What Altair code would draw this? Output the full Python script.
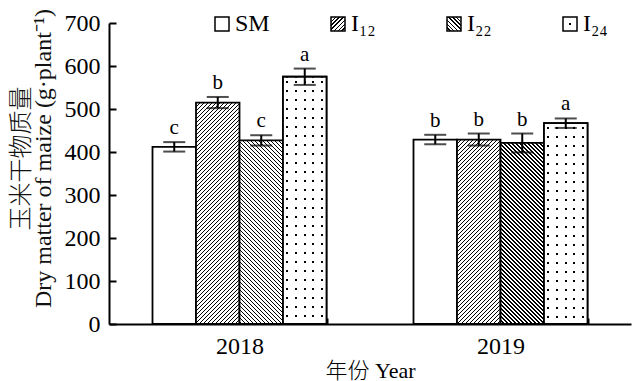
import json
import altair as alt
import pandas as pd

# ---------------- data ----------------
years = ["2018", "2019"]
treatments = ["SM", "I₁₂", "I₂₂", "I₂₄"]
dm_2018 = [412, 515, 427, 575]
dm_2019 = [429, 429, 421, 467]
err_2018 = [11, 13, 12, 19]
err_2019 = [11, 14, 22, 11]
sig_2018 = ["c", "b", "c", "a"]
sig_2019 = ["b", "b", "b", "a"]
y_ticks = [0, 100, 200, 300, 400, 500, 600, 700]

rows = []
for yr, vals, errs, sigs in [(years[0], dm_2018, err_2018, sig_2018),
                             (years[1], dm_2019, err_2019, sig_2019)]:
    for t, v, e, s in zip(treatments, vals, errs, sigs):
        rows.append({"year": yr, "treat": t, "bar": f"{yr}-{t}",
                     "dm": v, "err": e, "sig": s})
df = pd.DataFrame(rows)

# ---------------- layout / style ----------------
PLOT_W, PLOT_H, YMAX = 522, 301, 700
BAR_W = PLOT_W / 2 * (2 / 3) / 4
FONT = "Liberation Serif"
CJK_FONT = f"{FONT}, Noto Sans CJK SC"
TRANSP = "rgba(255,255,255,0)"


def stripe_stops(period, width, t_end, phase=0.0, line="black", bg="white"):
    stops = [{"offset": 0, "color": bg}]
    a = phase
    while a < t_end and a < 1:
        b = min(a + width, 1)
        stops += [{"offset": round(a, 5), "color": bg},
                  {"offset": round(a, 5), "color": line},
                  {"offset": round(b, 5), "color": line},
                  {"offset": round(b, 5), "color": bg}]
        a += period
    stops.append({"offset": 1, "color": bg})
    return stops


def diag(w, h, forward=True, px=4.0, lw=1.3):
    r = h / w
    den = w * (1 + r * r)
    if forward:
        g = {"gradient": "linear", "x1": 0, "y1": 0, "x2": 1, "y2": r}
    else:
        g = {"gradient": "linear", "x1": 1, "y1": 0, "x2": 0, "y2": r}
    g["stops"] = stripe_stops(px / den, lw / den, (w + h) / den)
    return g


def hlines(h, py=9.0, lw=2.0, ph=4.0):
    g = {"gradient": "linear", "x1": 0, "y1": 0, "x2": 0, "y2": 1}
    g["stops"] = stripe_stops(py / h, lw / h, 1, phase=ph / h)
    return g


def expr(g):
    return {"expr": json.dumps(g)}


bar_ids = list(df["bar"])
bar_range = []
for _, row in df.iterrows():
    h = row["dm"] / YMAX * PLOT_H
    t = row["treat"]
    if t == treatments[0]:
        bar_range.append("white")
    elif t == treatments[1]:
        bar_range.append(expr(diag(BAR_W, h, True)))
    elif t == treatments[2]:
        bar_range.append(expr(diag(BAR_W, h, False)))
    else:
        bar_range.append(expr(hlines(h)))

S = 14
legend_range = [
    "white",
    expr(diag(S, S, True)),
    expr(diag(S, S, False)),
    expr({"gradient": "radial", "x1": 0.5, "y1": 0.5, "r1": 0,
          "x2": 0.5, "y2": 0.5, "r2": 0.5,
          "stops": [{"offset": 0, "color": "black"},
                    {"offset": 0.12, "color": "black"},
                    {"offset": 0.12, "color": "white"},
                    {"offset": 1, "color": "white"}]}),
]

gap = 2.0 / BAR_W
dots_overlay = {"gradient": "linear", "x1": 0, "y1": 0, "x2": 1, "y2": 0,
                "stops": stripe_stops(0.2, gap, 1, phase=0.1 - gap / 2,
                                      line=TRANSP, bg="white")}

# ---------------- encodings ----------------
x_enc = alt.X("year:N", sort=years,
              scale=alt.Scale(domain=years, paddingInner=1 / 3, paddingOuter=1 / 6),
              axis=alt.Axis(title="年份 Year", labelAngle=0, tickBand="extent",
                            tickSize={"expr": "-6"}, tickWidth=2, tickColor="black",
                            domainColor="black", domainWidth=2,
                            labelFont=FONT, labelFontSize=24, labelColor="black",
                            labelPadding=16,
                            titleFont=CJK_FONT, titleFontSize=22,
                            titleFontWeight=300, titleColor="black",
                            titleY=53, titleBaseline="alphabetic"))
xo_enc = alt.XOffset("treat:N", sort=treatments,
                     scale=alt.Scale(domain=treatments, paddingInner=0, paddingOuter=0))

y_axis = alt.Axis(values=y_ticks, grid=False,
                  title=["玉米干物质量", "Dry matter of maize (g·plant⁻¹)"],
                  tickSize={"expr": "-7"}, tickWidth=2, tickColor="black",
                  domainColor="black", domainWidth=2,
                  labelFont=FONT, labelFontSize=24, labelColor="black",
                  labelPadding=16,
                  titleFont=CJK_FONT, titleFontSize=24,
                  titleFontWeight=300, titleColor="#111111",
                  titleAngle=270, titleX=-100, titleY=135, titleAlign="center",
                  titleBaseline="top", titleLineHeight=22)
y_scale = alt.Scale(domain=[0, YMAX], nice=False)

base = alt.Chart(df).transform_calculate(
    lo="datum.dm - datum.err", hi="datum.dm + datum.err"
).encode(x=x_enc, xOffset=xo_enc)

bars = base.mark_bar(stroke="black", strokeWidth=1.8).encode(
    y=alt.Y("dm:Q", scale=y_scale, axis=y_axis),
    fill=alt.Fill("bar:N", scale=alt.Scale(domain=bar_ids, range=bar_range), legend=None),
)

overlay = base.transform_filter(
    alt.datum.treat == treatments[3]
).mark_bar(fill=dots_overlay, stroke="black", strokeWidth=1.8).encode(
    y=alt.Y("dm:Q", scale=y_scale, axis=y_axis)
)

legend_layer = base.mark_bar(opacity=0).encode(
    y=alt.Y("dm:Q", scale=y_scale, axis=y_axis),
    fill=alt.Fill("treat:N", sort=treatments,
                  scale=alt.Scale(domain=treatments, range=legend_range),
                  legend=alt.Legend(title=None, orient="none", legendX=101, legendY=-11,
                                    direction="horizontal", padding=0,
                                    columnPadding=56, gridAlign="all",
                                    symbolType="square", symbolSize=S * S,
                                    symbolStrokeColor="black", symbolStrokeWidth=1.5,
                                    symbolOpacity=1,
                                    labelFont=FONT, labelFontSize=24,
                                    labelColor="black", labelOffset=1)),
)

rules = base.mark_rule(color="black", strokeWidth=2).encode(
    y=alt.Y("lo:Q", scale=y_scale, axis=y_axis), y2="hi:Q"
)
caps_lo = base.mark_tick(color="black", size=22, thickness=2).encode(
    y=alt.Y("lo:Q", scale=y_scale, axis=y_axis)
)
caps_hi = base.mark_tick(color="black", size=22, thickness=2).encode(
    y=alt.Y("hi:Q", scale=y_scale, axis=y_axis)
)
letters = base.mark_text(font=FONT, fontSize=21, color="black",
                         baseline="alphabetic", dy=-8).encode(
    y=alt.Y("hi:Q", scale=y_scale, axis=y_axis), text="sig:N"
)

chart = alt.layer(bars, overlay, legend_layer, rules, caps_lo, caps_hi, letters).resolve_scale(
    fill="independent"
).properties(
    width=PLOT_W, height=PLOT_H,
    autosize=alt.AutoSizeParams(type="none"),
    padding={"left": 101, "top": 15, "right": 1, "bottom": 57},
).configure_view(stroke=None)

chart.save("out.html", embed_options={"renderer": "svg", "actions": False})
